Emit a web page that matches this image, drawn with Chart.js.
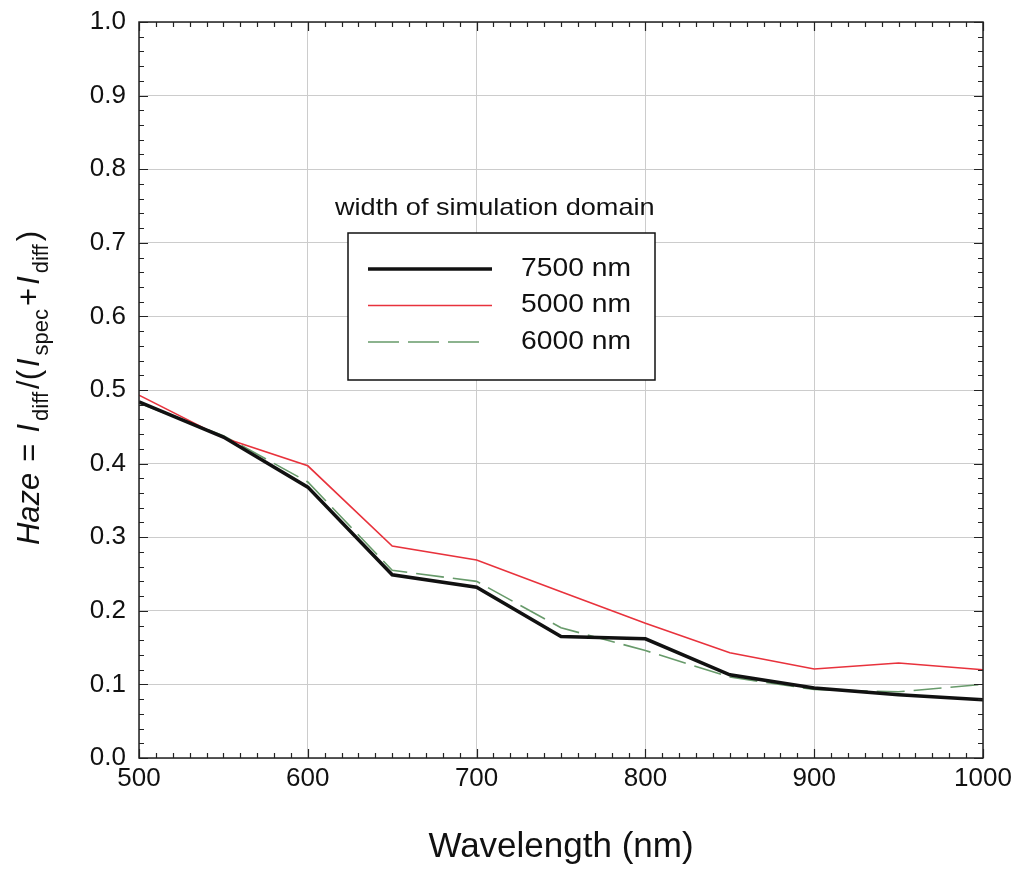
<!DOCTYPE html>
<html>
<head>
<meta charset="utf-8">
<script src="https://cdn.jsdelivr.net/npm/chart.js@4.4.0/dist/chart.umd.min.js"></script>
<style>
  html, body { margin: 0; padding: 0; background: #fff; }
  #wrap { width: 1016px; height: 869px; position: relative; }
</style>
</head>
<body>
<div id="wrap"><canvas id="hazeChart"></canvas></div>
<script>
// wavelengths (nm)
const wavelengths = [500, 550, 600, 650, 700, 750, 800, 850, 900, 950, 1000];
// haze for each simulation domain width
const haze7500 = [0.484, 0.436, 0.368, 0.249, 0.232, 0.165, 0.162, 0.113, 0.095, 0.086, 0.079];
const haze5000 = [0.493, 0.435, 0.397, 0.288, 0.269, 0.226, 0.183, 0.143, 0.121, 0.129, 0.120];
const haze6000 = [0.482, 0.438, 0.375, 0.255, 0.240, 0.177, 0.146, 0.110, 0.093, 0.090, 0.100];
const seriesLabels = ["7500 nm", "5000 nm", "6000 nm"];
const xTickValues = [500, 600, 700, 800, 900, 1000];
const yTickValues = [0, 0.1, 0.2, 0.3, 0.4, 0.5, 0.6, 0.7, 0.8, 0.9, 1.0];
const legendTitle = "width of simulation domain";
const xTitle = "Wavelength (nm)";

const FONT = "'Liberation Sans', Arial, sans-serif";

const toPoints = ys => wavelengths.map((x, i) => ({ x, y: ys[i] }));

// inward ticks on all four sides + frame
const frameTicks = {
  id: "frameTicks",
  afterDraw(chart) {
    const { ctx, chartArea: a, scales: { x, y } } = chart;
    ctx.save();
    ctx.strokeStyle = "#222";
    ctx.lineWidth = 1.2;
    ctx.beginPath();
    for (let v = 500; v <= 1000; v += 10) {
      const px = Math.round(x.getPixelForValue(v)) + 0.5;
      const len = v % 100 === 0 ? 9 : 5;
      ctx.moveTo(px, a.bottom); ctx.lineTo(px, a.bottom - len);
      ctx.moveTo(px, a.top); ctx.lineTo(px, a.top + len);
    }
    for (let k = 0; k <= 50; k++) {
      const py = Math.round(y.getPixelForValue(k * 0.02)) + 0.5;
      const len = k % 5 === 0 ? 9 : 5;
      ctx.moveTo(a.left, py); ctx.lineTo(a.left + len, py);
      ctx.moveTo(a.right, py); ctx.lineTo(a.right - len, py);
    }
    ctx.stroke();
    ctx.lineWidth = 1.5;
    ctx.strokeRect(a.left, a.top, a.right - a.left, a.bottom - a.top);
    ctx.restore();
  }
};

// slightly widened text, like the reference lettering
function wideText(ctx, text, x, y, sx) {
  ctx.save();
  ctx.translate(x, y);
  ctx.scale(sx, 1);
  ctx.fillText(text, 0, 0);
  ctx.restore();
}

// legend box with title, inside the plot
const boxLegend = {
  id: "boxLegend",
  afterDraw(chart) {
    const { ctx } = chart;
    ctx.save();
    ctx.fillStyle = "#111";
    ctx.textBaseline = "middle";
    ctx.font = "24px " + FONT;
    wideText(ctx, legendTitle, 335, 208, 1.13);
    ctx.fillStyle = "#fff";
    ctx.fillRect(348, 233, 307, 147);
    ctx.strokeStyle = "#111";
    ctx.lineWidth = 1.5;
    ctx.strokeRect(348, 233, 307, 147);
    ctx.font = "25px " + FONT;
    chart.data.datasets.forEach((ds, i) => {
      const yy = 269 + i * 36.5;
      ctx.strokeStyle = ds.borderColor;
      ctx.lineWidth = ds.borderWidth;
      ctx.setLineDash(ds.borderDash ? [31, 9] : []);
      ctx.beginPath();
      ctx.moveTo(368, yy); ctx.lineTo(ds.borderDash ? 479 : 492, yy);
      ctx.stroke();
      ctx.setLineDash([]);
      ctx.fillStyle = "#111";
      wideText(ctx, ds.label, 521, yy, 1.13);
    });
    ctx.restore();
  }
};

// rotated y title with italics and subscripts
const yTitle = {
  id: "yTitle",
  afterDraw(chart) {
    const { ctx } = chart;
    const parts = [
      ["Haze", "italic", false], ["=", "", false], ["I", "italic", false], ["diff", "", true],
      ["/(", "", false], ["I", "italic", false], ["spec", "", true], ["+", "", false],
      ["I", "italic", false], ["diff", "", true], [")", "", false]
    ];
    const gap = 3;
    const fontFor = p => (p[1] ? p[1] + " " : "") + (p[2] ? "22px " : "31px ") + FONT;
    const widthOf = p => {
      ctx.font = fontFor(p);
      return ctx.measureText(p[0]).width + (p[0] === "=" ? 16 : 0);
    };
    let total = 0;
    parts.forEach(p => { total += widthOf(p) + gap; });
    total -= gap;
    ctx.save();
    ctx.translate(0, 388);
    ctx.rotate(-Math.PI / 2);
    ctx.fillStyle = "#111";
    ctx.textBaseline = "alphabetic";
    let cx = -total / 2;
    parts.forEach(p => {
      const w = widthOf(p);
      ctx.font = fontFor(p);
      ctx.fillText(p[0], cx + (p[0] === "=" ? 8 : 0), p[2] ? 48 : 39);
      cx += w + gap;
    });
    ctx.restore();
  }
};

new Chart(document.getElementById("hazeChart").getContext("2d"), {
  type: "line",
  data: {
    datasets: [
      {
        label: seriesLabels[0],
        data: toPoints(haze7500),
        borderColor: "#111111",
        borderWidth: 3.5,
        pointRadius: 0,
        tension: 0
      },
      {
        label: seriesLabels[1],
        data: toPoints(haze5000),
        borderColor: "#e8323c",
        borderWidth: 1.6,
        pointRadius: 0,
        tension: 0
      },
      {
        label: seriesLabels[2],
        data: toPoints(haze6000),
        borderColor: "#679a6a",
        borderWidth: 1.6,
        borderDash: [28, 9],
        pointRadius: 0,
        tension: 0
      }
    ]
  },
  options: {
    responsive: true,
    maintainAspectRatio: false,
    animation: false,
    layout: { padding: { top: 22, right: 33, left: 0, bottom: 0 } },
    plugins: {
      legend: { display: false },
      tooltip: { enabled: false }
    },
    scales: {
      x: {
        type: "linear",
        min: 500,
        max: 1000,
        afterFit: s => { s.height = 111; s.paddingLeft = 0; s.paddingRight = 0; },
        afterBuildTicks: s => { s.ticks = xTickValues.map(v => ({ value: v })); },
        ticks: {
          color: "#111",
          padding: 5,
          font: { size: 26, family: FONT },
          callback: v => String(v)
        },
        grid: { color: "#cccccc", lineWidth: 1, drawTicks: false },
        border: { display: false },
        title: {
          display: true,
          text: xTitle,
          color: "#111",
          font: { size: 35, family: FONT },
          padding: { top: 20, bottom: 1 }
        }
      },
      y: {
        min: 0,
        max: 1,
        afterFit: s => { s.width = 139; s.paddingTop = 0; s.paddingBottom = 0; },
        afterBuildTicks: s => { s.ticks = yTickValues.map(v => ({ value: v })); },
        ticks: {
          color: "#111",
          padding: 13,
          font: { size: 26, family: FONT },
          callback: v => v.toFixed(1)
        },
        grid: { color: "#cccccc", lineWidth: 1, drawTicks: false },
        border: { display: false }
      }
    }
  },
  plugins: [frameTicks, boxLegend, yTitle]
});
</script>
</body>
</html>
